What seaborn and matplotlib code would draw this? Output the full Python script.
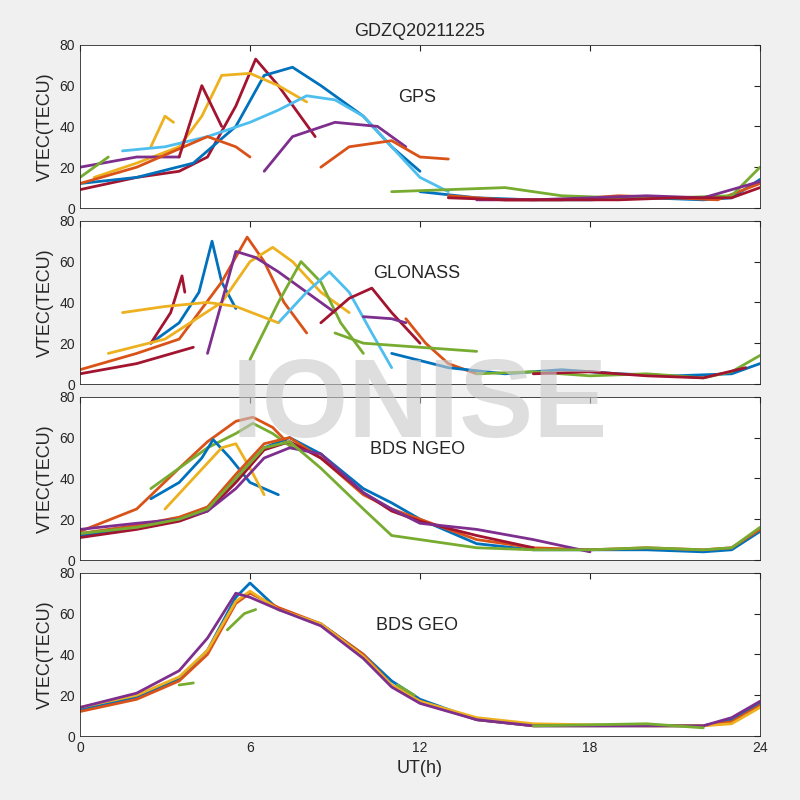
import seaborn as sns
import pandas as pd
import matplotlib
matplotlib.use("Agg")
import matplotlib.pyplot as plt

sns.set_style("white")
plt.rcParams['font.family'] = ['Arial', 'Liberation Sans', 'DejaVu Sans']

C = ["#0072BD", "#D95319", "#EDB120", "#7E2F8E", "#77AC30", "#4DBEEE", "#A2142F"]

# each arc: (colour index, UT hours, VTEC)
gps_arcs = [
    (6, [0, 2, 3.5, 4.5, 5.5, 6.2, 7, 8.3], [9, 15, 18, 25, 50, 73, 60, 35]),
    (0, [0, 2, 4, 5.5, 6.5, 7.5, 8.5, 10, 11, 12], [12, 15, 22, 40, 65, 69, 60, 45, 30, 18]),
    (2, [0.5, 2, 3.5, 4.3, 5, 6, 7, 8], [15, 22, 30, 45, 65, 66, 60, 52]),
    (2, [2.5, 3, 3.3], [30, 45, 42]),
    (5, [1.5, 3, 4.5, 6, 7, 8, 9, 10, 11, 12, 13], [28, 30, 35, 42, 48, 55, 53, 45, 30, 15, 8]),
    (3, [0, 2, 3.5], [20, 25, 25]),
    (3, [6.5, 7.5, 9, 10.5, 11.5], [18, 35, 42, 40, 30]),
    (1, [0, 2, 4.5, 5.5, 6], [12, 20, 35, 30, 25]),
    (1, [8.5, 9.5, 11, 12, 13], [20, 30, 33, 25, 24]),
    (6, [3.5, 4.3, 5], [25, 60, 40]),
    (4, [0, 1], [15, 25]),
    (0, [12, 14, 16, 18, 20, 22, 23, 24], [8, 5, 4, 4, 5, 4, 5, 14]),
    (1, [13, 15, 17, 19, 21, 22.5, 24], [6, 4, 4, 6, 5, 4, 12]),
    (4, [11, 13, 15, 17, 19, 21, 23, 24], [8, 9, 10, 6, 5, 5, 6, 20]),
    (3, [14, 16, 18, 20, 22, 24], [4, 4, 5, 6, 5, 13]),
    (6, [13, 15, 17, 19, 21, 23, 24], [5, 4, 4, 4, 5, 5, 10]),
]

glonass_arcs = [
    (0, [2.5, 3.5, 4.2, 4.66, 5.0, 5.5], [20, 30, 45, 70, 50, 37]),
    (6, [2.5, 3.2, 3.6, 3.7], [20, 35, 53, 45]),
    (1, [0, 2, 3.5, 5, 5.9, 6.5, 7.2, 8], [7, 15, 22, 50, 72, 60, 40, 25]),
    (2, [1, 3, 5, 6, 6.8, 7.5, 8.5, 9.5], [15, 22, 40, 60, 67, 60, 45, 35]),
    (3, [4.5, 5, 5.5, 6.2, 7, 8, 9], [15, 40, 65, 62, 55, 45, 35]),
    (4, [6, 7, 7.8, 8.5, 9.2, 10], [12, 40, 60, 50, 30, 15]),
    (5, [7, 8, 8.8, 9.5, 10.3, 11], [30, 45, 55, 45, 25, 8]),
    (6, [0, 2, 4], [5, 10, 18]),
    (6, [8.5, 9.5, 10.3, 11, 12], [30, 42, 47, 35, 20]),
    (2, [1.5, 3, 4.5, 5.5, 7], [35, 38, 40, 38, 30]),
    (1, [11.5, 12.2, 13, 14], [32, 20, 10, 5]),
    (4, [9, 10, 12, 14], [25, 20, 18, 16]),
    (0, [11, 13, 15, 17, 19, 21, 23, 24], [15, 8, 5, 7, 5, 4, 5, 10]),
    (4, [14, 16, 18, 20, 22, 23, 24], [5, 6, 4, 5, 3, 6, 14]),
    (3, [10, 11, 11.5], [33, 32, 30]),
    (6, [16, 18, 20, 22, 23.5], [5, 6, 4, 3, 8]),
]

ngeo_times = [0, 2, 3.5, 4.5, 5.5, 6.5, 7.4, 8.5, 10, 11, 12, 14, 16, 18, 20, 22, 23, 24]
ngeo_arcs = [
    (1, [0, 2, 3.5, 4.5, 5.5, 6.1, 6.8, 7.5], [14, 25, 45, 58, 68, 70, 65, 55]),
    (4, [2.5, 3.5, 4.5, 5.5, 6.1, 6.8, 7.5], [35, 45, 55, 62, 67, 62, 55]),
    (0, [2.5, 3.5, 4.3, 4.7, 5.3, 6, 7], [30, 38, 50, 59, 50, 38, 32]),
    (2, [3, 4, 5, 5.5, 6, 6.5], [25, 40, 55, 57, 45, 32]),
    (0, ngeo_times, [12, 16, 20, 25, 40, 55, 60, 52, 35, 28, 20, 8, 5, 5, 5, 4, 5, 14]),
    (1, ngeo_times, [13, 17, 21, 26, 42, 57, 60, 50, 32, 25, 20, 10, 6, 5, 6, 5, 6, 15]),
    (6, ngeo_times[:13], [11, 15, 19, 24, 38, 54, 58, 50, 33, 24, 19, 12, 6]),
    (3, ngeo_times[:14], [15, 18, 20, 24, 35, 50, 55, 52, 33, 25, 18, 15, 10, 4]),
    (4, ngeo_times, [13, 16, 20, 25, 40, 55, 58, 45, 25, 12, 10, 6, 5, 5, 6, 5, 6, 16]),
]

geo_times = [0, 2, 3.5, 4.5, 5.5, 6, 7, 8.5, 10, 11, 12, 14, 16, 20, 22, 23, 24]
geo_arcs = [
    (0, geo_times, [13, 19, 28, 42, 68, 75, 62, 55, 40, 27, 18, 8, 5, 5, 5, 8, 16]),
    (1, geo_times, [12, 18, 27, 40, 65, 70, 63, 55, 40, 25, 17, 8, 5, 5, 5, 7, 15]),
    (2, geo_times, [14, 20, 29, 42, 66, 71, 62, 55, 39, 25, 17, 9, 6, 5, 5, 6, 14]),
    (3, geo_times, [14, 21, 32, 48, 70, 68, 62, 54, 38, 24, 16, 8, 5, 5, 5, 9, 17]),
    (4, [11.2, 11.8], [25, 20]),
    (4, [3.5, 4], [25, 26]),
    (4, [5.2, 5.8, 6.2], [52, 60, 62]),
    (4, [16, 20, 22], [5, 6, 4]),
]

panels = [("GPS", gps_arcs), ("GLONASS", glonass_arcs),
          ("BDS NGEO", ngeo_arcs), ("BDS GEO", geo_arcs)]

fig = plt.figure(figsize=(8, 8), dpi=100, facecolor="#F0F0F0")
bottoms = [0.74, 0.52, 0.30, 0.08]
for i, (name, arcs) in enumerate(panels):
    ax = fig.add_axes([0.1, bottoms[i], 0.85, 0.204])
    for ci, t, v in arcs:
        df = pd.DataFrame({"t": t, "v": v})
        sns.lineplot(data=df, x="t", y="v", sort=False, color=C[ci], lw=2, ax=ax)
    ax.set_xlim(0, 24)
    ax.set_ylim(0, 80)
    ax.set_xticks([0, 6, 12, 18, 24])
    ax.set_yticks([0, 20, 40, 60, 80])
    ax.set_ylabel("VTEC(TECU)", fontsize=13)
    ax.tick_params(direction="in", length=4, labelsize=10, top=True, right=True)
    for s in ax.spines.values():
        s.set_color("#262626")
        s.set_linewidth(0.6)
    ax.text(11.9, 54, name, fontsize=13, ha="center", va="center")
    if i < 3:
        ax.set_xticklabels([])
        ax.set_xlabel("")
    else:
        ax.set_xlabel("UT(h)", fontsize=13)
    if i == 0:
        ax.set_title("GDZQ20211225", fontsize=13)

fig.text(0.525, 0.49, "IONISE", fontsize=80, fontweight="bold", color="#C8C8C8",
         alpha=0.6, ha="center", va="center")
fig.savefig("out.png", dpi=100, facecolor=fig.get_facecolor())
